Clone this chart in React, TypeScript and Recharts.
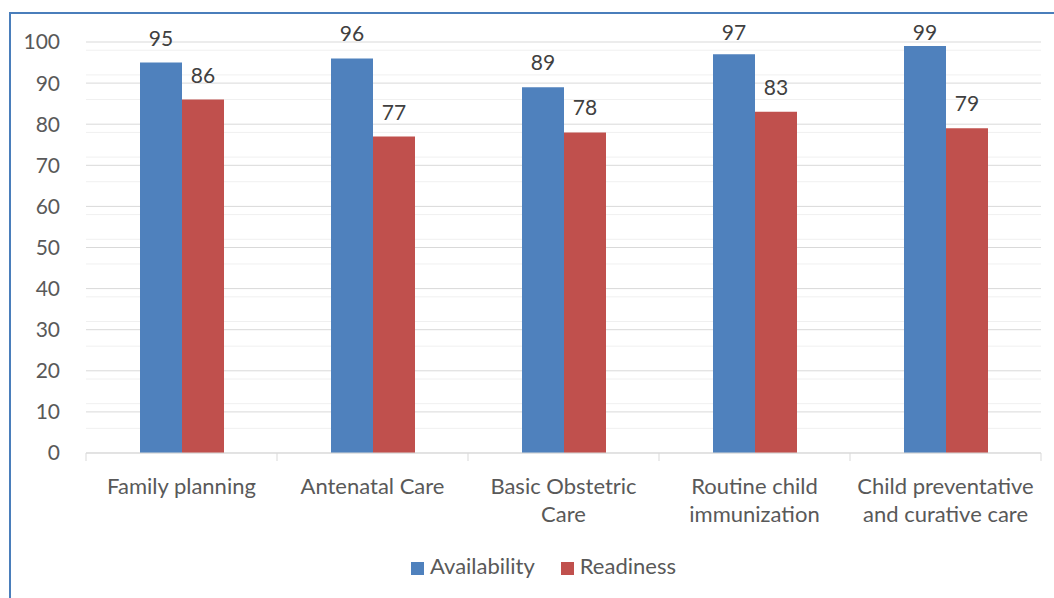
import React from "react";
import { BarChart, Bar, XAxis, YAxis, CartesianGrid, Legend, LabelList } from "recharts";

const categories = [
  "Family planning",
  "Antenatal Care",
  "Basic Obstetric Care",
  "Routine child immunization",
  "Child preventative and curative care",
];
const tickLines = [
  ["Family planning"],
  ["Antenatal Care"],
  ["Basic Obstetric", "Care"],
  ["Routine child", "immunization"],
  ["Child preventative", "and curative care"],
];
const availability = [95, 96, 89, 97, 99];
const readiness = [86, 77, 78, 83, 79];
const yTicks = [0, 10, 20, 30, 40, 50, 60, 70, 80, 90, 100];
const minorTicks = [2, 4, 6, 8, 12, 14, 16, 18, 22, 24, 26, 28, 32, 34, 36, 38, 42, 44, 46, 48, 52, 54, 56, 58, 62, 64, 66, 68, 72, 74, 76, 78, 82, 84, 86, 88, 92, 94, 96, 98];

const data = categories.map((name, i) => ({
  name,
  Availability: availability[i],
  Readiness: readiness[i],
}));

const FONT = "Lato, 'Open Sans', sans-serif";
const TEXT = "#595959";

const CategoryTick = (props: any) => {
  const { x, y, payload, index, width, visibleTicksCount } = props;
  const band = width / visibleTicksCount;
  const lines = tickLines[index] || [payload.value];
  return (
    <g>
      <line x1={x - band / 2} y1={y - 8} x2={x - band / 2} y2={y} stroke="#d9d9d9" />
      {index === visibleTicksCount - 1 && (
        <line x1={x + band / 2} y1={y - 8} x2={x + band / 2} y2={y} stroke="#d9d9d9" />
      )}
      {lines.map((l: string, i: number) => (
        <text key={i} x={x} y={y + 33 + i * 28} textAnchor="middle" fill={TEXT} fontSize={22} fontFamily={FONT}>
          {l}
        </text>
      ))}
    </g>
  );
};

// value label above the bar, kept inside the chart frame like Excel does
const TopLabel = (props: any) => {
  const { x, y, width, value } = props;
  const ty = Math.max(y - 17, 40);
  return (
    <text x={x + width / 2} y={ty} textAnchor="middle" fill="#404040" fontSize={21} fontFamily={FONT}>
      {value}
    </text>
  );
};

export default function App() {
  return (
    <div style={{ position: "absolute", left: 0, top: 0, width: 1054, height: 598, background: "#fff", overflow: "hidden" }}>
      <div style={{ position: "absolute", left: 9, top: 12, width: 1100, height: 700, border: "2px solid #4a7ebb" }} />
      <BarChart
        width={1054}
        height={598}
        data={data}
        margin={{ top: 42, right: 13, left: 0, bottom: 28 }}
        barCategoryGap={54}
        barGap={0}
      >
        <CartesianGrid vertical={false} horizontalValues={minorTicks} stroke="#f0f0f0" />
        <CartesianGrid vertical={false} stroke="#d9d9d9" />
        <XAxis
          dataKey="name"
          height={90}
          axisLine={{ stroke: "#d9d9d9" }}
          tickLine={false}
          tick={<CategoryTick />}
          interval={0}
        />
        <YAxis
          width={86}
          domain={[0, 100]}
          ticks={yTicks}
          axisLine={false}
          tickLine={false}
          tickMargin={20}
          tick={{ fill: TEXT, fontSize: 21, fontFamily: FONT }}
        />
        <Legend
          verticalAlign="bottom"
          iconType="square"
          iconSize={13}
          wrapperStyle={{ fontFamily: FONT, fontSize: 22, bottom: 19, left: 36 }}
          formatter={(v: string) => <span style={{ color: TEXT, marginLeft: 2, marginRight: 16 }}>{v}</span>}
        />
        <Bar dataKey="Availability" fill="#4f81bd" isAnimationActive={false}>
          <LabelList dataKey="Availability" content={<TopLabel />} />
        </Bar>
        <Bar dataKey="Readiness" fill="#c0504d" isAnimationActive={false}>
          <LabelList dataKey="Readiness" content={<TopLabel />} />
        </Bar>
      </BarChart>
    </div>
  );
}
